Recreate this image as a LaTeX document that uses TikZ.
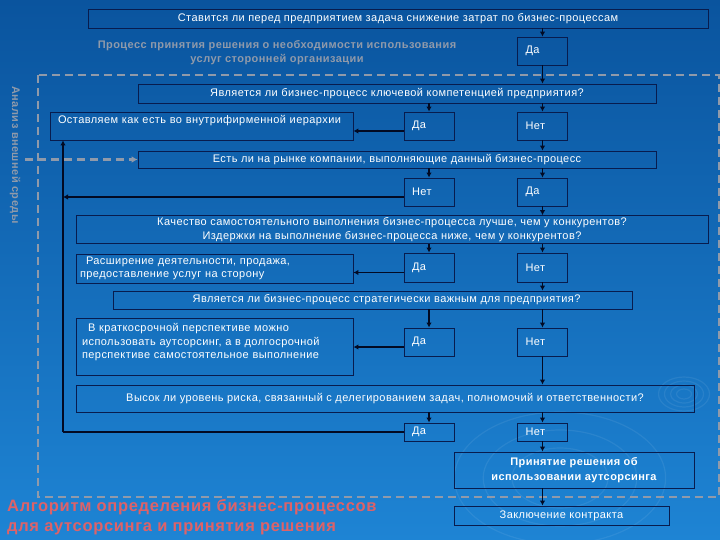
\documentclass[tikz,border=0pt]{standalone}
\usepackage{fontspec}
\setmainfont{Liberation Sans}[LetterSpace=4]
\usetikzlibrary{arrows.meta}

\definecolor{bgtop}{RGB}{10,84,158}
\definecolor{bgbot}{RGB}{30,132,212}
\definecolor{boxline}{RGB}{8,28,78}
\definecolor{arrowc}{RGB}{2,10,35}
\definecolor{dashgray}{RGB}{144,154,170}
\definecolor{titlered}{RGB}{222,98,104}

\tikzset{
  box/.style={draw=boxline, line width=.9pt, text=white, inner sep=2pt},
  yn/.style={box, minimum width=50, minimum height=28, text width=34, align=left},
  dashline/.style={draw=dashgray, line width=2.4pt, dash pattern=on 8pt off 5pt},
  graytext/.style={text=dashgray, font=\fontsize{11}{14}\selectfont\bfseries}
}

\begin{document}
\begin{tikzpicture}[x=1pt,y=-1pt, font=\fontsize{11}{13.5}\selectfont]

      \fill[top color=bgtop, bottom color=bgbot] (0,0) rectangle (720,540);
      \useasboundingbox (0,0) rectangle (720,540);

      % faint rings in the background
      \begin{scope}[white, line width=1.2pt, draw opacity=.07]
        \foreach \r in {5,9,13,17}
          \draw (684,394) ellipse ({\r*1.5} and \r);
        \foreach \r in {30,48,66}
          \draw (560,478) ellipse ({\r*1.6} and \r);
      \end{scope}

      % outer frame
      \draw[dashline] (38,75) rectangle (719,497);

      \node[graytext, rotate=-90] (side) at (15,155) {Анализ внешней среды};
      \node[graytext, align=center] (head) at (277,53)
        {Процесс принятия решения о необходимости использования\\
         услуг сторонней организации};

      \begin{scope}[every node/.style={box}]
        \node[minimum width=620, minimum height=19] (q1) at (398,18.5)
          {Ставится ли перед предприятием задача снижение затрат по бизнес-процессам};
        \node[minimum width=518, minimum height=19] (q2) at (397,93.5)
          {Является ли бизнес-процесс ключевой компетенцией предприятия?};
        \node[minimum width=303, minimum height=28, text width=287, align=left,
              text depth=13pt] (keep) at (201.5,126)
          {Оставляем как есть во внутрифирменной иерархии};
        \node[minimum width=518, minimum height=17] (q3) at (397,159.5)
          {Есть ли на рынке компании, выполняющие данный бизнес-процесс};
        \node[minimum width=632, minimum height=27, align=center] (q4) at (392,229.5)
          {Качество самостоятельного выполнения бизнес-процесса лучше, чем у конкурентов?\\
           Издержки на выполнение бизнес-процесса ниже, чем у конкурентов?};
        \node[minimum width=277, minimum height=29, text width=269, align=left] (expand) at (214.5,268.5)
          {\hspace*{6pt}Расширение деятельности, продажа,\\
           предоставление услуг на сторону};
        \node[minimum width=519, minimum height=18] (q5) at (372.5,300)
          {\hspace*{28pt}Является ли бизнес-процесс стратегически важным для предприятия?};
        \node[minimum width=277, minimum height=57, text width=265, align=left,
              text depth=38pt] (short) at (214.5,346.5)
          {\hspace*{6pt}В краткосрочной перспективе можно\\
           использовать аутсорсинг, а в долгосрочной\\
           перспективе самостоятельное выполнение};
        \node[minimum width=618, minimum height=27] (q6) at (385,398.5)
          {Высок ли уровень риска, связанный с делегированием задач, полномочий и ответственности?};
        \node[minimum width=240, minimum height=36, align=center,
              font=\fontsize{11}{15}\selectfont\bfseries] (decide) at (574,470)
          {Принятие решения об\\ использовании аутсорсинга};
        \node[minimum width=215, minimum height=19] (contract) at (561.5,515.5)
          {Заключение контракта};
      \end{scope}

      \begin{scope}[every node/.style={yn}]
        \node (yes0) at (542.5,51)  {Да};
        \node (yes1) at (429,126)   {Да};
        \node (no1)  at (542.5,126) {Нет};
        \node (no2)  at (429,192)   {Нет};
        \node (yes2) at (542.5,192) {Да};
        \node[minimum height=29] (yes3) at (429,267.5)   {Да};
        \node[minimum height=29] (no3)  at (542.5,267.5) {Нет};
        \node (yes4) at (429,342)   {Да};
        \node (no4)  at (542.5,342) {Нет};
        \node[minimum height=18] (yes5) at (429,432)   {Да};
        \node[minimum height=18] (no5)  at (542.5,432) {Нет};
      \end{scope}

      \node[text=titlered, align=left, anchor=north west, inner sep=0pt,
            font=\fontsize{16.5}{20}\selectfont\bfseries] (title) at (7,499)
        {Алгоритм определения бизнес-процессов\\ для аутсорсинга и принятия решения};

      \coordinate (turn) at (63,432);
      \coordinate (ext)  at (25,159.5);

      \begin{scope}[every edge/.style={draw=arrowc, line width=1.4pt,
                    -{Latex[length=5pt,width=5.5pt]}}]
        \path (q1.south -| yes0) edge (yes0);
        \path (yes0) edge (q2.north -| yes0);
        \path (q2.south -| yes1) edge (yes1);
        \path (q2.south -| no1)  edge (no1);
        \path ([yshift=-5pt]yes1.west) edge ([yshift=-5pt]yes1.west -| keep.east);
        \path (no1)  edge (q3.north -| no1);
        \path (q3.south -| no2)  edge (no2);
        \path (q3.south -| yes2) edge (yes2);
        \path ([yshift=-5pt]no2.west) edge ([yshift=-5pt]no2.west -| turn);
        \path (yes2) edge (q4.north -| yes2);
        \path (q4.south -| yes3) edge (yes3);
        \path (q4.south -| no3)  edge (no3);
        \path ([yshift=-5pt]yes3.west) edge ([yshift=-5pt]yes3.west -| expand.east);
        \path (no3)  edge (q5.north -| no3);
        \path (q5.south -| yes4) edge (yes4);
        \path (q5.south -| no4)  edge (no4);
        \path ([yshift=-5pt]yes4.west) edge ([yshift=-5pt]yes4.west -| short.east);
        \path (no4)  edge (q6.north -| no4);
        \path (q6.south -| yes5) edge (yes5);
        \path (q6.south -| no5)  edge (no5);
        \path (no5)  edge (decide.north -| no5);
        \path (decide.south -| no5) edge (contract.north -| no5);
        \path (turn) edge (turn |- keep.south);
      \end{scope}

      \draw[arrowc, line width=1.4pt] (yes5.west) -- (turn);
      \draw[dashline, -{Latex[length=6pt,width=7pt]}] (ext) -- (q3.west);

\end{tikzpicture}
\end{document}
